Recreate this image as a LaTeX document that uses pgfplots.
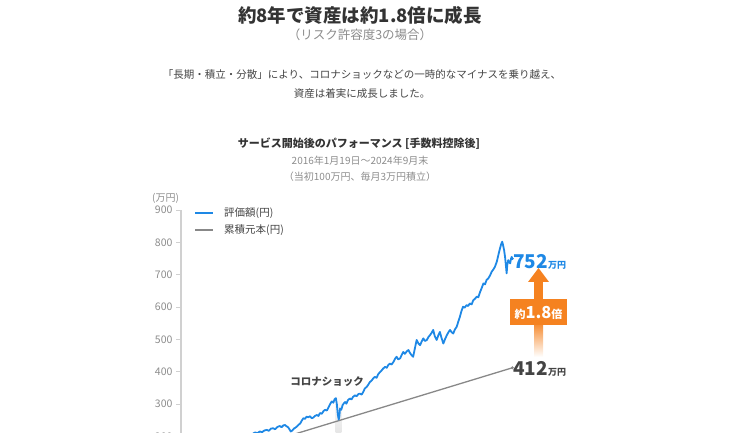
\documentclass[border=0pt]{standalone}
\usepackage{fontspec}
\setmainfont{Noto Sans CJK JP}
\usepackage{pgfplots}
\pgfplotsset{compat=1.18}
\definecolor{blueA}{RGB}{30,136,229}
\definecolor{greyA}{RGB}{136,136,136}
\definecolor{orangeA}{RGB}{245,130,32}
\definecolor{txtA}{RGB}{51,51,51}
\definecolor{txtB}{RGB}{68,68,68}
\definecolor{subA}{RGB}{140,140,140}
\definecolor{axA}{RGB}{208,208,208}
\newcommand{\fs}[1]{\fontsize{#1}{#1}\selectfont}
\begin{document}
\begin{tikzpicture}[x=1pt,y=1pt]
\path[use as bounding box] (0,0) rectangle (730,433);
\clip (0,0) rectangle (730,433);
% headings
\node[text=txtA,font=\fs{18.5}\bfseries] at (360,418) {約8年で資産は約1.8倍に成長};
\node[text=subA,font=\fs{12.5}] at (360,398) {（リスク許容度3の場合）};
\node[text=txtB,font=\fs{10.5}] at (362,358) {「長期・積立・分散」により、コロナショックなどの一時的なマイナスを乗り越え、};
\node[text=txtB,font=\fs{10.5}] at (362,339) {資産は着実に成長しました。};
\node[text=txtA,font=\fs{11}\bfseries] at (359,289) {サービス開始後のパフォーマンス [手数料控除後]};
\node[text=subA,font=\fs{10}] at (360,272) {2016年1月19日～2024年9月末};
\node[text=subA,font=\fs{10}] at (360,256) {（当初100万円、毎月3万円積立）};
\node[text=subA,font=\fs{10},anchor=west,inner sep=0pt] at (152,235) {(万円)};
% legend
\draw[blueA,line width=2.2pt] (195,220) -- (213,220);
\node[text=txtB,font=\fs{10.5},anchor=west,inner sep=0pt] at (224,220) {評価額(円)};
\draw[greyA,line width=2.2pt] (195,203) -- (213,203);
\node[text=txtB,font=\fs{10.5},anchor=west,inner sep=0pt] at (224,203) {累積元本(円)};
\begin{axis}[
  at={(181pt,-68pt)}, anchor=south west,
  scale only axis, width=332pt, height=291pt,
  xmin=0, xmax=104.4, ymin=0, ymax=900,
  enlargelimits=false, clip=false,
  hide x axis,
  axis y line*=left,
  y axis line style={draw=axA,line width=1.4pt},
  ytick={0,100,...,900},
  tick align=outside,
  major tick length=5pt,
  ytick style={draw=axA,line width=1pt},
  yticklabel style={text=subA,font=\fs{10.5}},
  /pgf/number format/assume math mode=true,
]
% covid highlight
\shade[top color=white,bottom color=black!12] (axis cs:48.6,190) rectangle (axis cs:50.4,330);
% principal
\addplot[greyA,line width=1.3pt] coordinates {(0,100) (104.2,412)};
\addplot[greyA,only marks,mark=*,mark size=1.3pt] coordinates {(104.2,412)};
% valuation
\addplot[blueA,line width=1.8pt,line join=round] coordinates {
(0,100)(1,97)(2,94)(3,99)(4,102)(5,104)(6,103)(7,110)(8,113)(9,116)(10,124)
(11,130)(12,134)(13,138)(14,143)(15,148)(16,152)(17,160)(18,166)(19,172)(20,180)
(21,190)(22,202)(22.6,208)(23.3,212)(24.0,210)(24.8,215)(25.5,213)(26.2,218)(27.0,220)
(27.6,217)(28.3,224)(29.0,225)(29.6,222)(30.3,229)(31.1,232)(31.6,228)(32.2,234)(32.7,235)
(33.2,231)(33.7,228)(34.1,222)(34.5,215)(35.0,218)(35.5,224)(36.0,227)(36.4,230)(37.0,236)
(37.5,240)(38.0,249)(38.5,256)(39.0,254)(39.5,261)(40.0,259)(40.6,262)(41.1,256)(41.6,258)
(42.1,263)(42.7,266)(43.2,263)(43.7,272)(44.3,270)(44.8,278)(45.3,282)(45.9,280)(46.4,290)
(46.9,300)(47.4,308)(47.9,304)(48.3,315)(48.7,318)(49.0,300)(49.3,268)(49.6,252)(49.8,262)
(50.0,286)(50.4,282)(50.8,296)(51.2,302)(51.6,306)(52.0,301)(52.5,312)(53.1,317)(53.6,314)
(54.1,322)(54.7,327)(55.2,324)(55.8,331)(56.3,332)(56.8,329)(57.3,337)(57.8,348)(58.4,353)
(58.9,360)(59.4,368)(59.9,372)(60.5,380)(61.0,384)(61.5,381)(62.0,392)(62.6,399)(63.1,404)
(63.6,410)(64.2,415)(64.7,412)(65.2,421)(65.7,425)(66.2,422)(66.8,430)(67.3,440)(67.8,446)
(68.3,438)(68.9,441)(69.4,452)(69.9,461)(70.4,455)(71.0,463)(71.5,467)(72.0,458)(72.5,451)
(73.0,446)(73.5,470)(74.1,498)(74.6,488)(75.2,482)(75.7,494)(76.2,503)(76.7,495)(77.3,498)
(77.8,507)(78.3,513)(78.8,520)(79.3,529)(79.8,510)(80.4,498)(80.9,512)(81.4,523)(81.9,505)
(82.5,487)(83.0,500)(83.6,513)(84.1,522)(84.6,529)(85.1,522)(85.6,518)(86.1,530)(86.7,539)
(87.2,555)(87.7,570)(88.2,588)(88.7,601)(89.2,598)(89.8,606)(90.3,603)(90.8,611)(91.4,608)
(91.9,621)(92.4,625)(93.0,632)(93.5,630)(94.0,645)(94.6,660)(95.1,673)(95.6,670)(96.1,684)
(96.6,688)(97.2,698)(97.7,709)(98.2,716)(98.7,724)(99.3,740)(99.8,761)(100.3,781)(100.7,795)
(101.0,802)(101.3,790)(101.6,776)(101.9,755)(102.1,735)(102.4,704)(102.6,730)(102.9,745)
(103.2,738)(103.5,735)(103.8,750)(104.0,755)(104.2,748)(104.4,752)
};
\end{axis}
% annotations
\node[text=txtB,font=\fs{10.5}\bfseries] at (327,51) {コロナショック};
\node[text=blueA,font=\fs{19}\bfseries,anchor=base west,inner sep=0pt] at (513,164) {752};
\node[text=blueA,font=\fs{9}\bfseries,anchor=base west,inner sep=0pt] at (548,164) {万円};
\node[text=txtB,font=\fs{19}\bfseries,anchor=base west,inner sep=0pt] at (513,57) {412};
\node[text=txtB,font=\fs{9}\bfseries,anchor=base west,inner sep=0pt] at (548,57) {万円};
% growth arrow
\shade[top color=orangeA,bottom color=white] (534,76) rectangle (543,112);
\fill[orangeA] (534,111.5) rectangle (543,152);
\fill[orangeA] (528,151) -- (549,151) -- (538.5,165) -- cycle;
\fill[orangeA] (510,108) rectangle (567,134);
\node[text=white,anchor=base,inner sep=0pt] at (538.5,114)
  {{\fs{11}\bfseries 約}{\fs{16.5}\bfseries 1.8}{\fs{11}\bfseries 倍}};
\end{tikzpicture}
\end{document}
